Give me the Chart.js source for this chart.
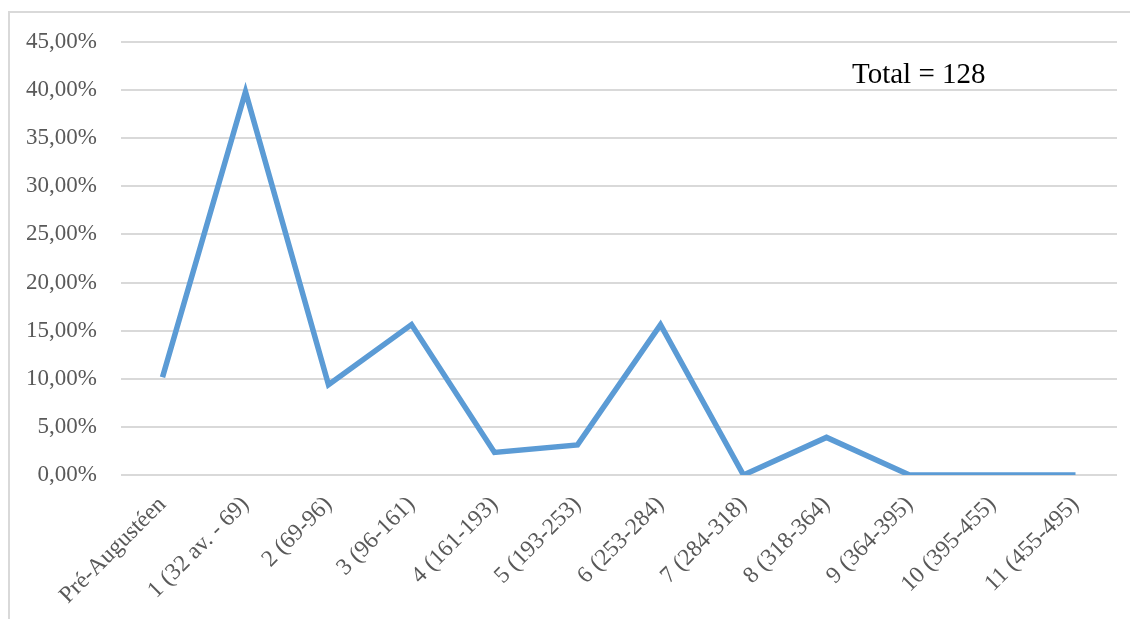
<!DOCTYPE html>
<html>
<head>
<meta charset="utf-8">
<script src="https://cdn.jsdelivr.net/npm/chart.js@4/dist/chart.umd.min.js"></script>
<style>
  html, body { margin: 0; padding: 0; background: #fff; }
  #wrap { position: relative; width: 1130px; height: 619px; overflow: hidden; }
</style>
</head>
<body>
<div id="wrap"><canvas id="mycanvas" width="1130" height="619"></canvas></div>
<script>
var periods = ['Pré-Augustéen', '1 (32 av. - 69)', '2 (69-96)', '3 (96-161)', '4 (161-193)',
  '5 (193-253)', '6 (253-284)', '7 (284-318)', '8 (318-364)', '9 (364-395)',
  '10 (395-455)', '11 (455-495)'];
// share of the finds per period, in percent
var shares = [10.16, 39.84, 9.38, 15.63, 2.34, 3.13, 15.63, 0, 3.91, 0, 0, 0];
var yTicks = [0, 5, 10, 15, 20, 25, 30, 35, 40, 45];
var totalLabel = 'Total = 128';

var serif = "'Liberation Serif', 'Times New Roman', serif";

// frame round the chart and the total note
var framePlugin = {
  id: 'frame',
  beforeDraw: function(chart){
    var ctx = chart.ctx;
    ctx.save();
    ctx.strokeStyle = '#d9d9d9';
    ctx.lineWidth = 2;
    ctx.beginPath();
    ctx.moveTo(9, 619);
    ctx.lineTo(9, 12);
    ctx.lineTo(1130, 12);
    ctx.stroke();
    ctx.restore();
  },
  afterDraw: function(chart){
    var ctx = chart.ctx;
    ctx.save();
    ctx.fillStyle = '#000';
    ctx.font = '29px ' + serif;
    ctx.textBaseline = 'alphabetic';
    ctx.fillText(totalLabel, 852, 83);
    ctx.restore();
  }
};

var ctx = document.getElementById('mycanvas');
var mychart = new Chart(ctx, {
  type: 'line',
  data: {
    labels: periods,
    datasets: [{
      data: shares,
      borderColor: '#5b9bd5',
      borderWidth: 5.5,
      pointRadius: 0,
      tension: 0,
      fill: false
    }]
  },
  options: {
    responsive: false,
    animation: false,
    layout: { padding: { top: 42, right: 13, left: 0, bottom: 0 } },
    plugins: { legend: { display: false }, tooltip: { enabled: false } },
    scales: {
      x: {
        offset: true,
        grid: { display: false },
        border: { display: false },
        ticks: {
          color: '#595959',
          font: { family: serif, size: 23.5 },
          minRotation: 45,
          maxRotation: 45,
          autoSkip: false,
          padding: 8
        },
        afterFit: function(scale){ scale.height = 144; }
      },
      y: {
        min: 0,
        max: 45,
        afterBuildTicks: function(scale){
          scale.ticks = yTicks.map(function(v){ return { value: v }; });
        },
        grid: { color: '#d9d9d9', lineWidth: 2, drawTicks: false },
        border: { display: false },
        ticks: {
          color: '#595959',
          font: { family: serif, size: 23 },
          padding: 24,
          callback: function(v){ return v.toFixed(2).replace('.', ',') + '%'; }
        },
        afterFit: function(scale){ scale.width = 121; }
      }
    }
  },
  plugins: [framePlugin]
});
</script>
</body>
</html>
